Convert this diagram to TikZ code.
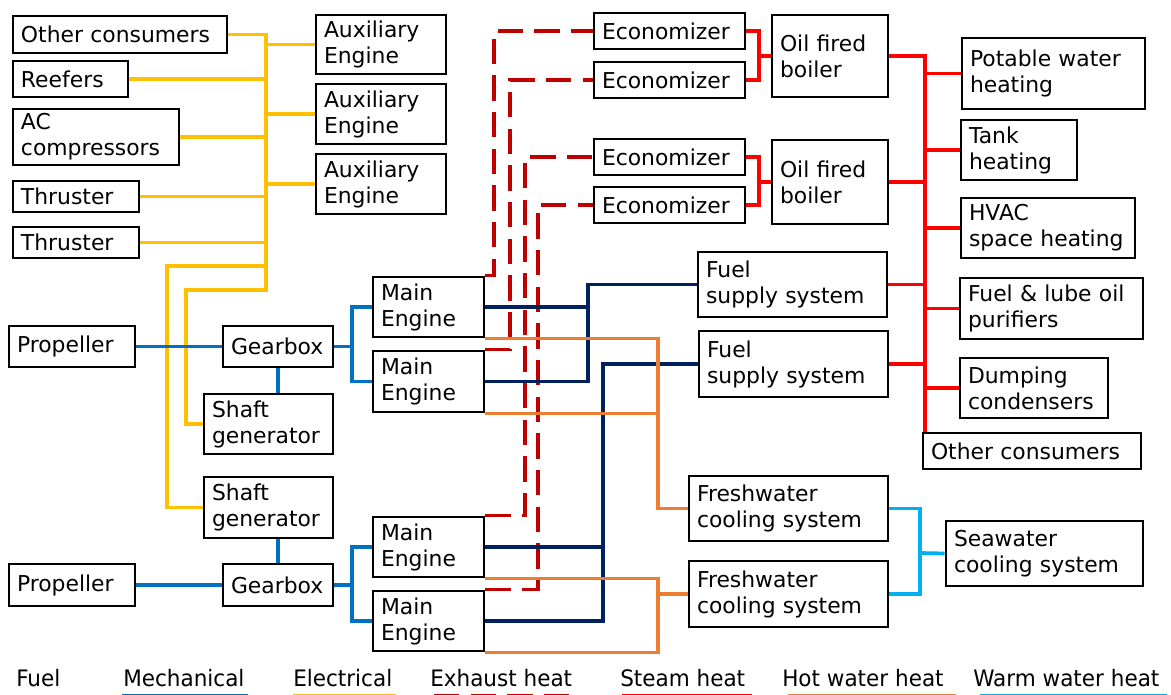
\documentclass[tikz,border=0pt]{standalone}
\usepackage{fontspec}
\setmainfont{DejaVu Sans}
\newfontfamily\legendfont[FakeStretch=0.95]{DejaVu Sans}
\usepackage{xcolor,tikz}
\usetikzlibrary{calc}
\definecolor{fuelc}{HTML}{002060}
\definecolor{mechc}{HTML}{0070C0}
\definecolor{elecc}{HTML}{FFC000}
\definecolor{exhc}{HTML}{C00000}
\definecolor{steamc}{HTML}{FF0000}
\definecolor{hotc}{HTML}{ED7D31}
\definecolor{warmc}{HTML}{00B0F0}

\begin{document}
\begin{tikzpicture}[x=0.75pt,y=-0.75pt,
 blk/.style={draw,line width=2.2pt,align=left,inner xsep=6pt,inner ysep=0pt,font=\fontsize{16.4}{19.5}\selectfont},
 ln/.style={line width=2.8pt},
 fuel/.style={ln,fuelc},
 mech/.style={ln,mechc},
 elec/.style={ln,elecc},
 exh/.style={ln,exhc,dash pattern=on 19pt off 8.5pt},
 steam/.style={ln,steamc},
 hot/.style={ln,hotc},
 warm/.style={ln,warmc},
 lg/.style={font=\legendfont\fontsize{17}{20}\selectfont,anchor=base west,inner sep=0pt}]
 \useasboundingbox (0,0) rectangle (1171,695);
 \foreach \n/\xa/\ya/\xb/\yb/\txt in {
  othL/13/16/227/53/{Other consumers}, reef/13/61/128/97/{Reefers},
  acc/13/109/179/165/{AC\\compressors}, thr1/13/181/139/212/{Thruster},
  thr2/13/227/139/258/{Thruster},
  aux1/316/15/446/74/{Auxiliary\\Engine}, aux2/316/84/446/144/{Auxiliary\\Engine},
  aux3/316/154/446/214/{Auxiliary\\Engine},
  prop1/9/326/135/367/{Propeller}, gb1/223/326/333/367/{Gearbox},
  sg1/204/394/333/454/{Shaft\\generator}, sg2/204/477/333/538/{Shaft\\generator},
  gb2/223/564/333/606/{Gearbox}, prop2/9/564/135/606/{Propeller},
  me1/373/277/484/337/{Main\\Engine}, me2/373/351/484/412/{Main\\Engine},
  me3/373/517/484/577/{Main\\Engine}, me4/373/591/484/651/{Main\\Engine},
  eco1/594/13/745/49/{Economizer}, eco2/594/62/745/98/{Economizer},
  eco3/594/139/745/175/{Economizer}, eco4/594/187/745/223/{Economizer},
  boil1/772/15/888/97/{Oil fired\\boiler}, boil2/772/140/888/224/{Oil fired\\boiler},
  fss1/698/252/887/317/{Fuel\\supply system}, fss2/699/331/888/397/{Fuel\\supply system},
  fw1/689/476/888/541/{Freshwater\\cooling system}, fw2/689/561/888/627/{Freshwater\\cooling system},
  sea/946/521/1143/586/{Seawater\\cooling system},
  pot/962/38/1145/109/{Potable water\\heating}, tank/961/120/1077/180/{Tank\\heating},
  hvac/961/198/1135/258/{HVAC\\space heating}, puri/960/278/1143/339/{Fuel \& lube oil\\purifiers},
  dump/960/358/1108/418/{Dumping\\condensers}, othR/923/433/1141/469/{Other consumers}}{
  \pgfmathsetmacro\bw{(\xb-\xa)*0.75}
  \pgfmathsetmacro\bh{(\yb-\ya)*0.75}
  \pgfmathsetmacro\tw{\bw-12}
  \node[blk,minimum width=\bw pt,minimum height=\bh pt,text width=\tw pt] (\n) at ({(\xa+\xb)/2},{(\ya+\yb)/2}) {\txt};
 }
 \coordinate (ebus) at (266,290);
 \coordinate (ein) at (186,290);
 \coordinate (eout) at (167,266);
 \coordinate (mj) at (352,0);
 \coordinate (ex1) at (494,0);
 \coordinate (ex2) at (510,0);
 \coordinate (ex3) at (525,0);
 \coordinate (ex4) at (538,0);
 \coordinate (fj1) at (588,0);
 \coordinate (fj2) at (603,0);
 \coordinate (hj) at (658,0);
 \coordinate (sj) at (759,0);
 \coordinate (wj) at (920,553);
 \coordinate (sbus) at (925,0);
 \foreach \i in {1,...,4}
  \draw[exh] (me\i.north east) -| (ex\i |- eco\i.west) -- (eco\i.west);
 \draw[elec] (othL.east) -| (ebus) -- (ein) |- (sg1.west);
 \draw[elec] (ebus |- eout) -- (eout) |- (sg2.west);
 \foreach \n in {reef,acc,thr1,thr2}
  \draw[elec] (\n.east) -- (\n.east -| ebus);
 \foreach \n in {aux1,aux2,aux3}
  \draw[elec] (\n.west) -- (\n.west -| ebus);
 \draw[mech] (prop1.east) -- (gb1.west);
 \draw[mech] (gb1.south) -- (gb1.south |- sg1.north);
 \draw[mech] (gb1.east) -- (gb1.east -| mj);
 \draw[mech] (me1.west) -| (mj |- gb1.east) |- (me2.west);
 \draw[mech] (prop2.east) -- (gb2.west);
 \draw[mech] (gb2.north) -- (gb2.north |- sg2.south);
 \draw[mech] (gb2.east) -- (gb2.east -| mj);
 \draw[mech] (me3.west) -| (mj |- gb2.east) |- (me4.west);
 \draw[fuel] (me1.east) -- (me1.east -| fj1);
 \draw[fuel] (me2.east) -| (fj1 |- fss1.west) -- (fss1.west);
 \draw[fuel] (me3.east) -- (me3.east -| fj2);
 \draw[fuel] (me4.east) -| (fj2 |- fss2.west) -- (fss2.west);
 \draw[hot] (me1.south east) -| (hj |- fw1.west) -- (fw1.west);
 \draw[hot] (me2.south east) -- (me2.south east -| hj);
 \draw[hot] (me3.south east) -| (hj |- me4.south east) -- (me4.south east);
 \draw[hot] (hj |- fw2.west) -- (fw2.west);
 \draw[warm] (fw1.east) -| (wj) |- (fw2.east);
 \draw[warm] (wj) -- (sea.west);
 \draw[steam] (eco1.east) -| (sj |- eco2.east) -- (eco2.east);
 \draw[steam] (sj |- boil1.west) -- (boil1.west);
 \draw[steam] (eco3.east) -| (sj |- eco4.east) -- (eco4.east);
 \draw[steam] (sj |- boil2.west) -- (boil2.west);
 \draw[steam] (boil1.east) -| (sbus |- othR.north);
 \foreach \n in {boil2,fss1,fss2}
  \draw[steam] (\n.east) -- (\n.east -| sbus);
 \foreach \n in {pot,tank,hvac,puri,dump}
  \draw[steam] (\n.west -| sbus) -- (\n.west);
 \foreach \n/\x/\txt in {lgfuel/16/Fuel,lgmech/123/Mechanical,lgelec/293/Electrical,lgexh/430/Exhaust heat,lgsteam/620/Steam heat,lghot/782/Hot water heat,lgwarm/973/Warm water heat}
  \node[lg] (\n) at (\x,686) {\txt};
 \draw[mech] (122,696) -- (248,696);
 \draw[elec] (293,696) -- (396,696);
 \draw[exh] (434,696) -- (577,696);
 \draw[steam] (622,696) -- (752,696);
 \draw[hot] (788,696) -- (956,696);
 \draw[warm] (980,696) -- (1167,696);
\end{tikzpicture}
\end{document}
